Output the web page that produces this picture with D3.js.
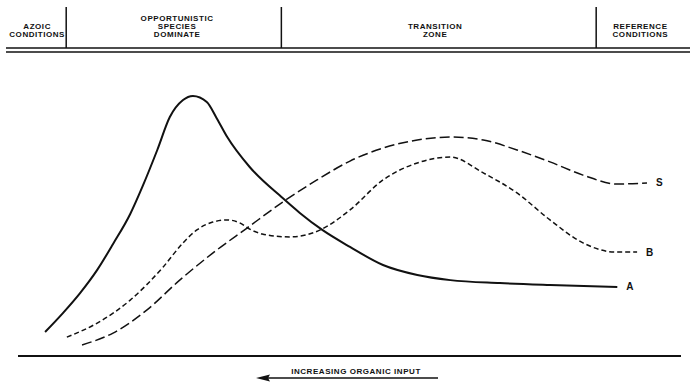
<!DOCTYPE html>
<html>
<head>
<meta charset="utf-8">
<script src="https://cdn.jsdelivr.net/npm/d3@7"></script>
<style>
  body { margin: 0; background: #fff; }
  svg { display: block; }
  .hdr, .lbl { font-family: "Liberation Sans", Arial, sans-serif; fill: #111; }
  .hdr { font-size: 8px; letter-spacing: 0.55px; font-weight: bold; }
</style>
</head>
<body>
<div id="main"></div>
<script>
// zones across the top (x in gradient units, 0-100)
const zoneBreaks = [7, 39.6, 87.3];
const zoneNames = [
  ["AZOIC", "CONDITIONS"],
  ["OPPORTUNISTIC", "SPECIES", "DOMINATE"],
  ["TRANSITION", "ZONE"],
  ["REFERENCE", "CONDITIONS"]
];
const zoneCenters = [2.6, 23.8, 62.9, 94];

// A = abundance, B = biomass, S = species
const xA = [3.8, 6.5, 9.1, 11.7, 14.1, 16.7, 18.6, 20.8, 22.7, 24.7, 26.2, 28.3, 29.8, 31.4, 34.8, 39.8, 42.4, 45.8, 50.0, 55.0, 60.2, 65.2, 72.7, 80.3, 90.5];
const yA = [8.9, 15.9, 23.3, 31.9, 41.5, 52.6, 63.0, 76.3, 88.5, 94.8, 96.3, 94.1, 88.1, 81.1, 70.0, 58.5, 53.0, 46.7, 40.4, 33.7, 30.0, 28.1, 27.0, 26.3, 25.6];

const xB = [7.1, 11.7, 16.7, 21.7, 24.7, 26.8, 29.2, 31.4, 33.3, 34.8, 36.7, 40.9, 45.5, 50.0, 55.0, 60.2, 65.2, 70.2, 75.3, 80.3, 85.3, 90.2, 93.5];
const yB = [7.0, 12.2, 20.7, 33.0, 41.9, 46.7, 49.6, 50.4, 49.3, 47.0, 45.2, 44.1, 46.7, 54.1, 65.2, 71.5, 73.7, 67.8, 60.4, 50.4, 41.9, 38.5, 38.5];

const xS = [9.4, 14.1, 19.2, 24.2, 29.2, 34.4, 39.8, 45.0, 50.0, 55.0, 60.2, 65.2, 70.2, 75.3, 80.3, 85.3, 90.5, 95.0];
const yS = [4.1, 8.5, 17.0, 28.1, 38.1, 47.4, 57.0, 65.2, 72.2, 77.0, 80.0, 81.1, 80.0, 76.3, 71.9, 67.0, 63.7, 64.1];

const w = 700, h = 387;

const svg = d3.select("#main").append("svg")
  .attr("width", w)
  .attr("height", h);

const xScale = d3.scaleLinear().domain([0, 100]).range([20, 680]);
const yScale = d3.scaleLinear().domain([0, 100]).range([356, 86]);

// header
svg.append("line")
  .attr("x1", 6).attr("x2", 690).attr("y1", 48).attr("y2", 48)
  .attr("stroke", "#111").attr("stroke-width", 1.6);
svg.append("line")
  .attr("x1", 6).attr("x2", 690).attr("y1", 52).attr("y2", 52)
  .attr("stroke", "#111").attr("stroke-width", 1.6);

svg.selectAll(".sep")
  .data(zoneBreaks)
  .enter()
  .append("line")
  .attr("class", "sep")
  .attr("x1", d => xScale(d)).attr("x2", d => xScale(d))
  .attr("y1", 7).attr("y2", 48)
  .attr("stroke", "#111").attr("stroke-width", 1.5);

zoneNames.forEach((lines, i) => {
  const n = lines.length;
  lines.forEach((t, j) => {
    svg.append("text")
      .attr("class", "hdr")
      .attr("x", xScale(zoneCenters[i]))
      .attr("y", 36.5 - (n - 1 - j) * 8)
      .attr("text-anchor", "middle")
      .text(t);
  });
});

// bottom axis line
svg.append("line")
  .attr("x1", 18).attr("x2", 681).attr("y1", 356).attr("y2", 356)
  .attr("stroke", "#111").attr("stroke-width", 2);

// arrow
svg.append("line")
  .attr("x1", 262).attr("x2", 438).attr("y1", 378).attr("y2", 378)
  .attr("stroke", "#111").attr("stroke-width", 1.6);
svg.append("path")
  .attr("d", "M256,378 L270,374.5 L268,378 L270,381.5 Z")
  .attr("fill", "#111");
svg.append("text")
  .attr("class", "hdr")
  .attr("x", 356)
  .attr("y", 374)
  .attr("text-anchor", "middle")
  .style("letter-spacing", "0.55px")
  .text("INCREASING ORGANIC INPUT");

// curves
const line = d3.line()
  .x(d => xScale(d[0]))
  .y(d => yScale(d[1]))
  .curve(d3.curveMonotoneX);

const series = [
  { name: "A", pts: d3.zip(xA, yA), width: 2, dash: null },
  { name: "B", pts: d3.zip(xB, yB), width: 1.5, dash: "5,3" },
  { name: "S", pts: d3.zip(xS, yS), width: 1.5, dash: "10,4" }
];

svg.selectAll(".curve")
  .data(series)
  .enter()
  .append("path")
  .attr("class", "curve")
  .attr("d", d => line(d.pts))
  .attr("fill", "none")
  .attr("stroke", "#111")
  .attr("stroke-width", d => d.width)
  .attr("stroke-dasharray", d => d.dash);

svg.selectAll(".lbl")
  .data(series)
  .enter()
  .append("text")
  .attr("class", "lbl")
  .attr("x", d => xScale(d.pts[d.pts.length - 1][0]) + 9)
  .attr("y", d => yScale(d.pts[d.pts.length - 1][1]) + 3.5)
  .style("font-size", "10px")
  .style("font-weight", "bold")
  .text(d => d.name);
</script>
</body>
</html>
